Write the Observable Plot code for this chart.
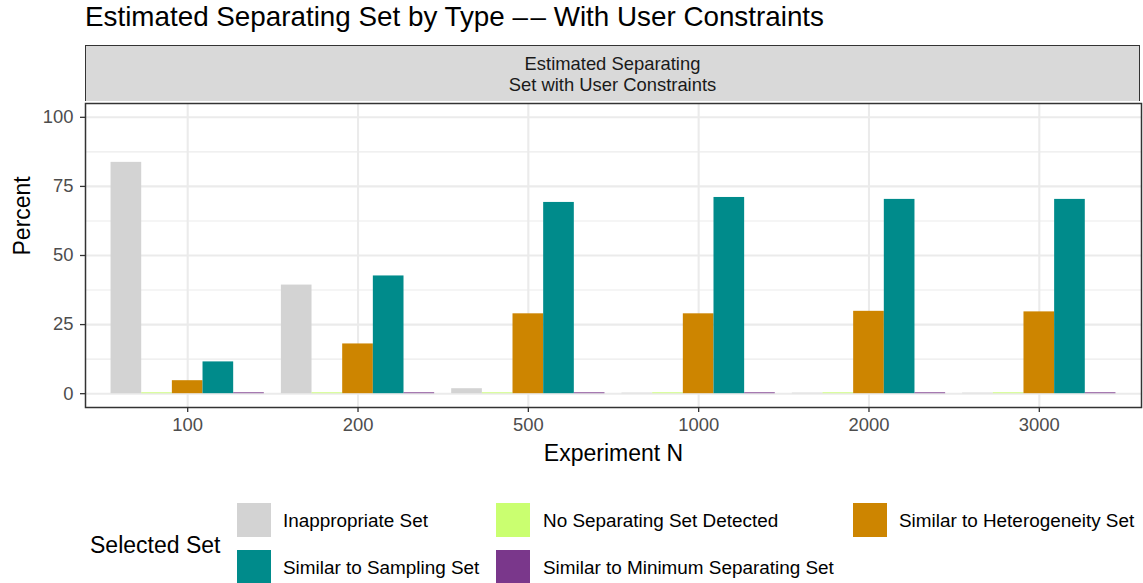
<!DOCTYPE html>
<html>
<head>
<meta charset="utf-8">
<script src="https://cdn.jsdelivr.net/npm/d3@7"></script>
<script src="https://cdn.jsdelivr.net/npm/@observablehq/plot@0.6"></script>
<style>
  html, body { margin: 0; padding: 0; background: #fff; }
  body { width: 1143px; height: 583px; position: relative; overflow: hidden; font-family: "Liberation Sans", Arial, sans-serif; }
  #title { position: absolute; left: 85px; top: 0px; font-size: 27.8px; line-height: 34px; color: #000; white-space: nowrap; }
  #title .dash { letter-spacing: 2.5px; }
  #strip { position: absolute; left: 85px; top: 45px; width: 1053px; height: 55px; background: #d9d9d9; border: 1.5px solid #333; border-bottom: none;
           display: flex; align-items: center; justify-content: center; text-align: center; font-size: 18.4px; line-height: 21px; color: #1a1a1a; }
  #chart { position: absolute; left: 0; top: 0; }
  #legend-title { position: absolute; left: 90px; top: 530px; font-size: 23px; line-height: 30px; color: #000; white-space: nowrap; }
  .key { position: absolute; width: 34px; height: 34px; }
  .klab { position: absolute; font-size: 18.9px; line-height: 34px; color: #000; white-space: nowrap; }
</style>
</head>
<body>
<div id="title"></div>
<div id="strip"></div>
<div id="chart"></div>
<div id="legend-title"></div>
<script>
// ---- data ----
const titleText = "Estimated Separating Set by Type –– With User Constraints";
const stripLines = ["Estimated Separating", "Set with User Constraints"];
const Ns = ["100", "200", "500", "1000", "2000", "3000"];
const sets = ["Inappropriate Set", "No Separating Set Detected", "Similar to Heterogeneity Set", "Similar to Sampling Set", "Similar to Minimum Separating Set"];
const setColors = ["#d3d3d3", "#caff70", "#cd8500", "#008b8b", "#7a378b"];
const inappropriate = [83.7, 39.3, 1.8, 0.2, 0.2, 0.2];
const noSeparating = [0.3, 0.3, 0.3, 0.3, 0.3, 0.3];
const heterogeneity = [4.7, 18.0, 28.9, 28.9, 29.8, 29.6];
const sampling = [11.5, 42.6, 69.2, 71.0, 70.3, 70.3];
const minimumSep = [0.3, 0.3, 0.3, 0.3, 0.3, 0.3];
const yTicks = [0, 25, 50, 75, 100];
const yMinor = [12.5, 37.5, 62.5, 87.5];
const legendTitle = "Selected Set";
const xLabel = "Experiment N";
const yLabel = "Percent";

const seriesValues = [inappropriate, noSeparating, heterogeneity, sampling, minimumSep];
const rows = [];
sets.forEach((s, si) => Ns.forEach((n, ni) => rows.push({N: n, set: s, value: seriesValues[si][ni]})));

// ---- layout ----
const W = 1143, H = 480;
const mL = 85, mR = 2, mT = 103, mB = H - 407;
const padInner = 0.1, padOuter = 0.15;
const step = (W - mL - mR) / (Ns.length - padInner + 2 * padOuter);
const bw = step * (1 - padInner);
const barW = bw / sets.length;

// title: keep the text as is, only space the double dash a little
const titleEl = document.getElementById("title");
const dashIdx = titleText.indexOf("––");
titleEl.appendChild(document.createTextNode(titleText.slice(0, dashIdx)));
const dashSpan = document.createElement("span");
dashSpan.className = "dash";
dashSpan.textContent = "–";
titleEl.appendChild(dashSpan);
titleEl.appendChild(document.createTextNode(titleText.slice(dashIdx + 1)));

document.getElementById("strip").innerHTML = stripLines.join("<br>");

const font = "'Liberation Sans', Arial, sans-serif";

const chart = Plot.plot({
  width: W, height: H,
  marginLeft: mL, marginRight: mR, marginTop: mT, marginBottom: mB,
  style: {fontFamily: font, background: "transparent", overflow: "visible"},
  x: {type: "band", domain: Ns, paddingInner: padInner, paddingOuter: padOuter, round: false, label: null},
  y: {domain: [-5, 105], label: null},
  color: {domain: sets, range: setColors},
  marks: [
    Plot.ruleY(yMinor, {stroke: "#ebebeb", strokeWidth: 1.1}),
    Plot.ruleY(yTicks, {stroke: "#ebebeb", strokeWidth: 2.1}),
    Plot.ruleX(Ns, {stroke: "#ebebeb", strokeWidth: 2.1}),
    ...sets.map((s, i) => Plot.barY(rows.filter(d => d.set === s), {
      x: "N", y1: 0, y2: "value", fill: "set",
      insetLeft: i * barW, insetRight: (sets.length - 1 - i) * barW
    })),
    Plot.frame({stroke: "#333", strokeWidth: 1.5}),
    Plot.axisY(yTicks, {tickSize: 5, tickPadding: 7, fontSize: 18.4, color: "#4d4d4d", stroke: "#333", strokeWidth: 1.3, label: null}),
    Plot.axisX({tickSize: 5, tickPadding: 5, fontSize: 18.4, color: "#4d4d4d", stroke: "#333", strokeWidth: 1.3, label: null}),
    Plot.text([yLabel], {frameAnchor: "left", dx: -63, rotate: -90, fontSize: 23, fill: "#000", text: d => d}),
    Plot.text([xLabel], {frameAnchor: "bottom", dy: 53, fontSize: 23, fill: "#000", text: d => d})
  ]
});
document.getElementById("chart").appendChild(chart);

// ---- legend ----
document.getElementById("legend-title").textContent = legendTitle;
const keyCols = [237, 496, 853];
const labCols = [283, 543, 899];
const keyRows = [503, 550];
sets.forEach((s, i) => {
  const r = Math.floor(i / 3), c = i % 3;
  const k = document.createElement("div");
  k.className = "key";
  k.style.left = keyCols[c] + "px";
  k.style.top = keyRows[r] + "px";
  k.style.background = setColors[i];
  document.body.appendChild(k);
  const t = document.createElement("div");
  t.className = "klab";
  t.style.left = labCols[c] + "px";
  t.style.top = (keyRows[r] + 1) + "px";
  t.textContent = s;
  document.body.appendChild(t);
});
</script>
</body>
</html>
